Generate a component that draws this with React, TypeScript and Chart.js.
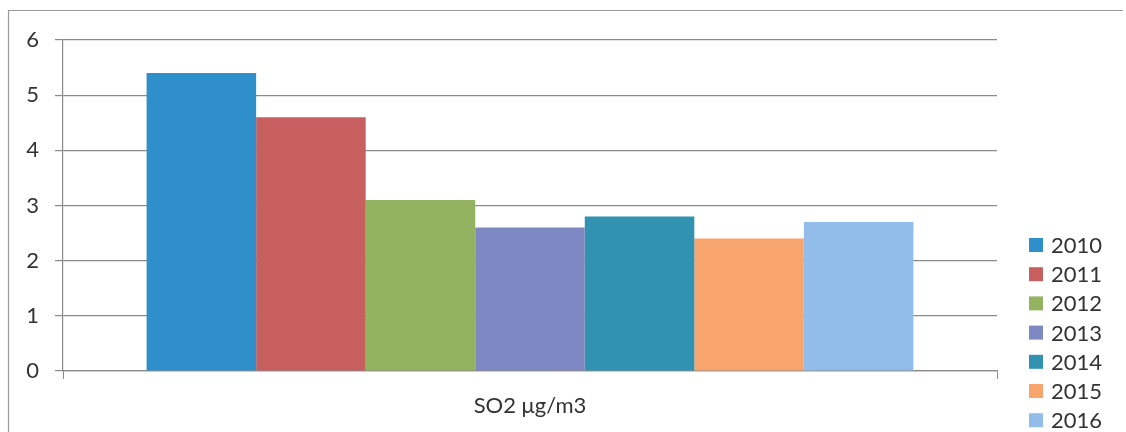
import React, { useEffect, useRef } from "react";
import { Chart, registerables } from "chart.js";

Chart.register(...registerables);

const categories = ["SO2 μg/m3"];
const years = ["2010", "2011", "2012", "2013", "2014", "2015", "2016"];
const values = [5.4, 4.6, 3.1, 2.6, 2.8, 2.4, 2.7];
const colors = ["#2f8fca", "#c65f5e", "#93b361", "#7e89c3", "#3192b1", "#f7a56c", "#92bdea"];
const yTicks = [0, 1, 2, 3, 4, 5, 6];

const FONT = "Lato, 'Liberation Sans', sans-serif";

const framePlugin = {
  id: "frame",
  beforeDraw(chart: any) {
    const ctx = chart.ctx;
    ctx.save();
    ctx.strokeStyle = "#9a9a9a";
    ctx.lineWidth = 1.2;
    ctx.beginPath();
    ctx.moveTo(8.5, 432);
    ctx.lineTo(8.5, 10.5);
    ctx.lineTo(1123, 10.5);
    ctx.stroke();
    ctx.restore();
  },
};

const legendPlugin = {
  id: "customLegend",
  afterDraw(chart: any) {
    const ctx = chart.ctx;
    ctx.save();
    ctx.font = `22px ${FONT}`;
    ctx.textBaseline = "middle";
    ctx.textAlign = "left";
    chart.data.datasets.forEach((ds: any, i: number) => {
      const cy = 245 + i * 29.2;
      ctx.fillStyle = ds.backgroundColor;
      ctx.fillRect(1029, cy - 7, 14, 14);
      ctx.fillStyle = "#333333";
      ctx.fillText(ds.label, 1051, cy + 1);
    });
    ctx.restore();
  },
};

export default function App() {
  const ref = useRef<HTMLCanvasElement>(null);
  useEffect(() => {
    if (!ref.current) return;
    const chart = new Chart(ref.current, {
      type: "bar",
      data: {
        labels: categories,
        datasets: years.map((y, i) => ({
          label: y,
          data: [values[i]],
          backgroundColor: colors[i],
          borderWidth: 0,
          categoryPercentage: 0.821,
          barPercentage: 1,
        })),
      },
      options: {
        animation: false,
        responsive: true,
        maintainAspectRatio: false,
        layout: { padding: { top: 40, right: 129, left: 0, bottom: 0 } },
        plugins: { legend: { display: false }, tooltip: { enabled: false } },
        scales: {
          x: {
            afterFit: (s: any) => {
              s.height = 61;
            },
            grid: {
              drawOnChartArea: false,
              drawTicks: true,
              tickLength: 8,
              color: "#8a8a8a",
              offset: true,
            },
            border: { display: true, color: "#8a8a8a", width: 1.2 },
            ticks: {
              color: "#333333",
              font: { family: FONT, size: 22 },
              padding: 14,
            },
          },
          y: {
            min: 0,
            max: 6,
            afterFit: (s: any) => {
              s.width = 63;
            },
            afterBuildTicks: (s: any) => {
              s.ticks = yTicks.map((v) => ({ value: v }));
            },
            grid: {
              color: "#8a8a8a",
              lineWidth: 1.2,
              tickLength: 8,
            },
            border: { display: true, color: "#8a8a8a", width: 1.2 },
            ticks: {
              color: "#333333",
              font: { family: FONT, size: 22 },
              padding: 16,
            },
          },
        },
      },
      plugins: [framePlugin, legendPlugin],
    });
    return () => chart.destroy();
  }, []);
  return (
    <div style={{ position: "fixed", left: 0, top: 0, width: 1126, height: 432, background: "#fff" }}>
      <canvas ref={ref} />
    </div>
  );
}
